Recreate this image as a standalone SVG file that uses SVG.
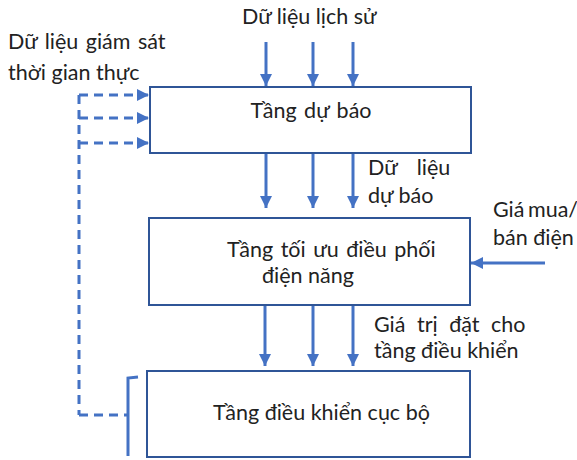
<svg xmlns="http://www.w3.org/2000/svg" width="577" height="460" viewBox="0 0 577 460">
<style>
.box{fill:#fff;stroke:#2F5597;stroke-width:2}
.t{font-family:Lato,"Open Sans","Liberation Sans",sans-serif;font-size:21.5px;fill:#222}
.a{stroke:#4472C4;stroke-width:3;fill:none}
.d{stroke:#4472C4;stroke-width:3;fill:none;stroke-dasharray:9,6}
</style>
<defs>
<marker id="ah" viewBox="0 0 10 10" refX="10" refY="5" markerWidth="4" markerHeight="4" orient="auto" markerUnits="strokeWidth">
<path d="M0,0 L10,5 L0,10 z" fill="#4472C4"/>
</marker>
</defs>
<g id="connectors">
<line class="a" x1="266" y1="42" x2="266" y2="86" marker-end="url(#ah)"/>
<line class="a" x1="313" y1="42" x2="313" y2="86" marker-end="url(#ah)"/>
<line class="a" x1="353" y1="42" x2="353" y2="86" marker-end="url(#ah)"/>
<line class="a" x1="266" y1="153" x2="266" y2="208" marker-end="url(#ah)"/>
<line class="a" x1="313" y1="153" x2="313" y2="208" marker-end="url(#ah)"/>
<line class="a" x1="353" y1="153" x2="353" y2="208" marker-end="url(#ah)"/>
<line class="a" x1="265" y1="305" x2="265" y2="366" marker-end="url(#ah)"/>
<line class="a" x1="313" y1="305" x2="313" y2="366" marker-end="url(#ah)"/>
<line class="a" x1="353" y1="305" x2="353" y2="366" marker-end="url(#ah)"/>
<line class="a" x1="545" y1="263" x2="471" y2="263" marker-end="url(#ah)"/>
<line class="d" x1="79" y1="95" x2="149" y2="95" marker-end="url(#ah)"/>
<line class="d" x1="79" y1="118" x2="149" y2="118" marker-end="url(#ah)"/>
<line class="d" x1="79" y1="143" x2="149" y2="143" marker-end="url(#ah)"/>
<line class="d" x1="79" y1="95" x2="79" y2="415"/>
<line class="d" x1="79" y1="415" x2="128" y2="415"/>
<path class="a" d="M138,377 L128,378 L128,456"/>
</g>
<g id="n-forecast">
<rect class="box" x="150" y="87" width="321" height="66"/>
<text class="t" x="311" y="118" text-anchor="middle" word-spacing="2">Tầng dự báo</text>
</g>
<g id="n-optimize">
<rect class="box" x="149" y="218" width="321" height="87"/>
<text class="t" x="227" y="257" word-spacing="2">Tầng tối ưu điều phối</text>
<text class="t" x="262" y="283">điện năng</text>
</g>
<g id="n-local">
<rect class="box" x="147" y="371" width="323" height="86"/>
<text class="t" x="213" y="420">Tầng điều khiển cục bộ</text>
</g>
<g id="labels">
<text class="t" x="242" y="24">Dữ liệu lịch sử</text>
<text class="t" x="8" y="49" word-spacing="2">Dữ liệu giám sát</text>
<text class="t" x="8" y="80">thời gian thực</text>
<text class="t" x="368" y="175" word-spacing="14">Dữ liệu</text>
<text class="t" x="368" y="203">dự báo</text>
<text class="t" x="493" y="217" word-spacing="-2">Giá mua/</text>
<text class="t" x="493" y="245">bán điện</text>
<text class="t" x="374" y="332" word-spacing="6">Giá trị đặt cho</text>
<text class="t" x="374" y="358">tầng điều khiển</text>
</g>
</svg>
